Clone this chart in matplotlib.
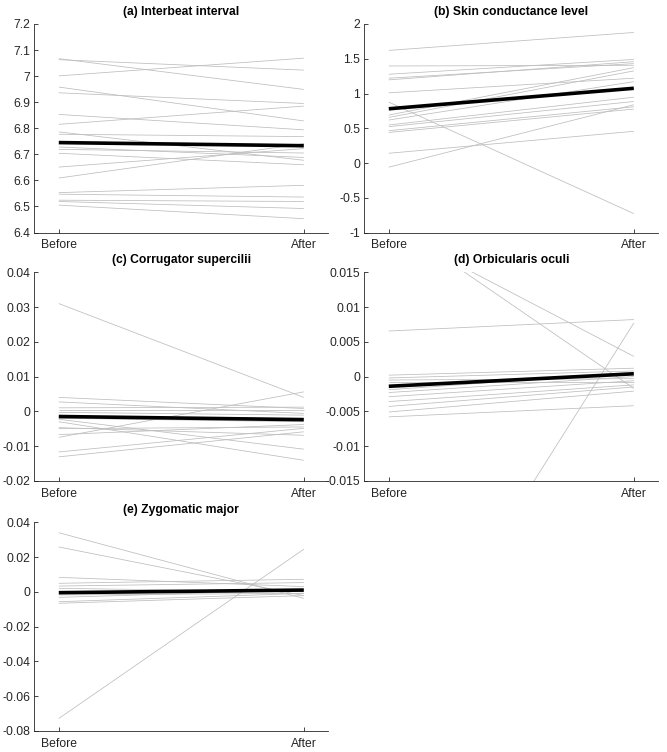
import matplotlib
matplotlib.use("Agg")
import matplotlib.pyplot as plt
import numpy as np

plt.rcParams['font.family'] = ['Liberation Sans', 'DejaVu Sans']

conditions = ["Before", "After"]

# (a) Interbeat interval
a_before = [7.063, 7.067, 7.001, 6.958, 6.936, 6.853, 6.815, 6.786, 6.777, 6.728,
            6.719, 6.704, 6.651, 6.609, 6.553, 6.547, 6.524, 6.519, 6.505]
a_after = [7.023, 6.949, 7.069, 6.828, 6.895, 6.794, 6.885, 6.677, 6.768, 6.688,
           6.705, 6.660, 6.722, 6.741, 6.581, 6.536, 6.519, 6.492, 6.453]
a_mean = [6.745, 6.733]

# (b) Skin conductance level
b_before = [1.62, 1.396, 1.277, 1.22, 1.196, 1.01, 0.876, 0.69, 0.656, 0.618,
            0.547, 0.523, 0.465, 0.44, 0.14, -0.06]
b_after = [1.878, 1.406, 1.49, 1.43, 1.458, 1.22, -0.728, 1.372, 1.325, 1.17,
           0.947, 0.885, 0.809, 0.776, 0.456, 0.838]
b_mean = [0.78, 1.075]

# (c) Corrugator supercilii
c_before = [0.0310, 0.0040, 0.0027, 0.0010, 0.0003, -0.0003, -0.0015, -0.0020,
            -0.0023, -0.0030, -0.0047, -0.0050, -0.0067, -0.0075, -0.0117, -0.0131]
c_after = [0.0040, 0.0008, -0.0006, 0.0012, 0.0003, -0.0011, -0.0020, -0.0030,
           -0.0109, -0.0141, -0.0069, -0.0045, -0.0038, 0.0056, -0.0049, -0.0059]
c_mean = [-0.0015, -0.0024]

# (d) Orbicularis oculi
d_before = [0.0225, 0.0213, 0.00655, -0.0481, 0.0002, -0.0002, -0.0005, -0.0008,
            -0.0019, -0.0023, -0.0029, -0.0036, -0.0043, -0.0051, -0.0058]
d_after = [-0.0017, 0.0029, 0.0082, 0.0077, 0.0012, 0.0008, -0.0003, -0.0008,
           0.0006, 0.0000, -0.0006, -0.0012, -0.0015, -0.0021, -0.0042]
d_mean = [-0.0014, 0.0004]

# (e) Zygomatic major
e_before = [0.034, 0.0258, -0.0729, 0.0083, 0.0049, 0.0033, 0.0020, -0.0018,
            -0.0032, -0.0057, -0.0066]
e_after = [-0.0038, -0.0022, 0.0245, 0.0030, 0.0072, 0.0053, 0.0000, -0.0009,
           0.0010, -0.0009, -0.0022]
e_mean = [-0.0005, 0.0010]

panels = [
    ("(a) Interbeat interval", a_before, a_after, a_mean, (6.4, 7.2),
     [6.4, 6.5, 6.6, 6.7, 6.8, 6.9, 7.0, 7.1, 7.2],
     ["6.4", "6.5", "6.6", "6.7", "6.8", "6.9", "7", "7.1", "7.2"]),
    ("(b) Skin conductance level", b_before, b_after, b_mean, (-1, 2),
     [-1, -0.5, 0, 0.5, 1, 1.5, 2],
     ["-1", "-0.5", "0", "0.5", "1", "1.5", "2"]),
    ("(c) Corrugator supercilii", c_before, c_after, c_mean, (-0.02, 0.04),
     [-0.02, -0.01, 0, 0.01, 0.02, 0.03, 0.04],
     ["-0.02", "-0.01", "0", "0.01", "0.02", "0.03", "0.04"]),
    ("(d) Orbicularis oculi", d_before, d_after, d_mean, (-0.015, 0.015),
     [-0.015, -0.01, -0.005, 0, 0.005, 0.01, 0.015],
     ["-0.015", "-0.01", "-0.005", "0", "0.005", "0.01", "0.015"]),
    ("(e) Zygomatic major", e_before, e_after, e_mean, (-0.08, 0.04),
     [-0.08, -0.06, -0.04, -0.02, 0, 0.02, 0.04],
     ["-0.08", "-0.06", "-0.04", "-0.02", "0", "0.02", "0.04"]),
]

W, H = 667, 752
fig = plt.figure(figsize=(W / 100, H / 100), dpi=100)

lefts = [34.3, 364.3]
tops = [24.0, 272.3, 522.3]
aw, ah = 294.0, 208.5
positions = [(lefts[0], tops[0]), (lefts[1], tops[0]), (lefts[0], tops[1]),
             (lefts[1], tops[1]), (lefts[0], tops[2])]

axcol = (0.15, 0.15, 0.15)
x = np.array([1, 2])
for (title, bef, aft, mean, ylim, yt, ytl), (l, t) in zip(panels, positions):
    ax = fig.add_axes([l / W, 1 - (t + ah) / H, aw / W, ah / H])
    for b0, a0 in zip(bef, aft):
        ax.plot(x, [b0, a0], color=(0.74, 0.74, 0.74), lw=0.55, solid_capstyle='butt')
    ax.plot(x, mean, color='black', lw=2.6, solid_capstyle='butt')
    ax.set_xlim(0.9, 2.1)
    ax.set_ylim(*ylim)
    ax.set_xticks(x)
    ax.set_xticklabels(conditions)
    ax.set_yticks(yt)
    ax.set_yticklabels(ytl)
    for side in ['top', 'right']:
        ax.spines[side].set_visible(False)
    for side in ['left', 'bottom']:
        ax.spines[side].set_color(axcol)
        ax.spines[side].set_linewidth(0.6)
    ax.tick_params(direction='in', length=3, width=0.6, colors=axcol,
                   labelsize=8.7, pad=3)
    ax.tick_params(axis='x', pad=5)
    ax.set_title(title, fontsize=8.7, fontweight='bold', pad=6.5, color='black')

fig.savefig("out.png", dpi=100)
